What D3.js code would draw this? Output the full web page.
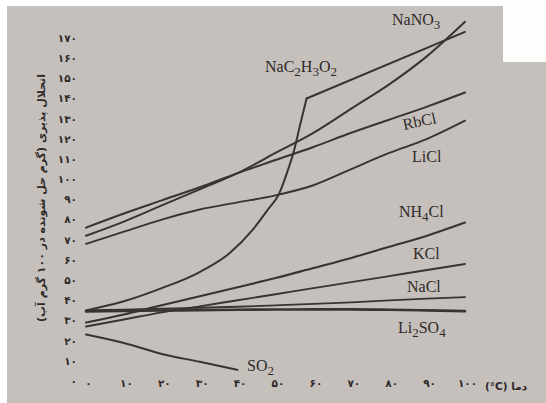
<!DOCTYPE html>
<html><head><meta charset="utf-8">
<script src="https://cdn.jsdelivr.net/npm/d3@7/dist/d3.min.js"></script>
<style>html,body{margin:0;padding:0;background:#fff;}svg{display:block;}</style>
</head><body>
<script>
// ---- data (temperature °C -> solubility g / 100 g water) ----
const temps   = [0,10,20,30,40,50,60,70,80,90,100];
const nano3   = [73,80,88,96,104,114,124,136,148,162,179];
const rbcl    = [77,84,90.5,97,104,110.5,117,124,130.5,137,144];
const licl    = [69,75,81,86,89.5,93,98,106,114,121,130];
const nh4cl   = [30,34,38.5,43,47.5,52,57,62,67.5,73,79.5];
const kcl     = [28,31.5,35,38,41,44,47,50,53,56,59];
const nacl    = [36,36.4,36.8,37.3,37.8,38.5,39.2,40,41,41.8,42.6];
const li2so4  = [35.5,35.7,35.9,36.1,36.3,36.4,36.5,36.5,36.3,36,35.6];
const so2Temps = [0,10,20,30,40];
const so2      = [24,19.8,14.4,10.5,6.5];
const acetateTemps = [0,10,20,30,38,44,48,51,53,55,56.5,58.2];
const acetate      = [36,40.5,47,55,64.5,76,86,94,104,116,128,141];
const anhydTemps   = [58.2,100];
const anhyd        = [141,174];
const yTicks = [0,10,20,30,40,50,60,70,80,90,100,110,120,130,140,150,160,170];
const xTicks = [0,10,20,30,40,50,60,70,80,90,100];
const yTitle = "انحلال پذیری (گرم حل شونده در ۱۰۰ گرم آب)";
const xTitle = "دما (\u200E°C\u200E)";

const W = 546, H = 403;
const fa = n => String(n).replace(/\d/g, d => "۰۱۲۳۴۵۶۷۸۹"[+d]);

const svg = d3.select("body").append("svg").attr("width", W).attr("height", H);
// scanned page
svg.append("rect").attr("x",7).attr("y",6).attr("width",W-7).attr("height",H-6).attr("fill","#c6c0bc");
svg.append("rect").attr("x",503).attr("y",0).attr("width",W-503).attr("height",62).attr("fill","#fdfdfc");

const x = d3.scaleLinear().domain([0,100]).range([86,465]);
const y = d3.scaleLinear().domain([0,170]).range([383,40]);

const ink = "#3a3431";
const line = d3.line().x(d=>x(d[0])).y(d=>y(d[1])).curve(d3.curveMonotoneX);
const lin = d3.line().x(d=>x(d[0])).y(d=>y(d[1]));
const zipT = (ts, vs) => ts.map((t,i)=>[t,vs[i]]);

const series = [
  {v: zipT(temps,nano3), w:2},
  {v: zipT(temps,rbcl), w:2},
  {v: zipT(temps,licl), w:1.9},
  {v: zipT(temps,nh4cl), w:2.1},
  {v: zipT(temps,kcl), w:1.9},
  {v: zipT(temps,nacl), w:1.8},
  {v: zipT(temps,li2so4), w:2.6},
  {v: zipT(so2Temps,so2), w:2},
  {v: zipT(acetateTemps,acetate), w:2}
];
series.forEach(s => svg.append("path").attr("d", line(s.v)).attr("fill","none")
  .attr("stroke", ink).attr("stroke-width", s.w).attr("stroke-linecap","round"));
svg.append("path").attr("d", lin(zipT(anhydTemps,anhyd))).attr("fill","none")
  .attr("stroke", ink).attr("stroke-width", 2).attr("stroke-linecap","round");

// y tick labels (Persian digits)
const yAxis = d3.axisLeft(y).tickValues(yTicks).tickSize(0).tickPadding(0).tickFormat(fa);
const gy = svg.append("g").attr("transform","translate(77,-2)").call(yAxis);
gy.select(".domain").remove();
gy.selectAll("text").attr("font-family","DejaVu Sans").attr("font-weight","bold")
  .attr("font-size",10.5).attr("fill","#2e2a28");

// x tick labels
const xAxis = d3.axisBottom(x).tickValues(xTicks).tickSize(0).tickPadding(0).tickFormat(fa);
const gx = svg.append("g").attr("transform","translate(2,380)").call(xAxis);
gx.select(".domain").remove();
gx.selectAll("text").attr("font-family","DejaVu Sans").attr("font-weight","bold")
  .attr("font-size",10.5).attr("fill","#2e2a28");

svg.append("text").attr("x",506).attr("y",390).attr("text-anchor","middle")
  .attr("direction","rtl").attr("font-family","DejaVu Sans").attr("font-weight","bold")
  .attr("font-size",10.5).attr("fill","#2e2a28").text(xTitle);

svg.append("text").attr("transform","translate(45,198) rotate(-90)").attr("text-anchor","middle")
  .attr("direction","rtl").attr("font-family","DejaVu Sans").attr("font-weight","bold")
  .attr("font-size",11).attr("fill","#2e2a28").text(yTitle);

// series labels
const labels = [
  {parts:[["NaNO",0],["3",1]], x:392, y:25, r:0},
  {parts:[["NaC",0],["2",1],["H",0],["3",1],["O",0],["2",1]], x:265, y:72, r:0},
  {parts:[["RbCl",0]], x:404, y:130, r:-12},
  {parts:[["LiCl",0]], x:412, y:162, r:0},
  {parts:[["NH",0],["4",1],["Cl",0]], x:399, y:217, r:0},
  {parts:[["KCl",0]], x:413, y:259, r:0},
  {parts:[["NaCl",0]], x:407, y:292, r:0},
  {parts:[["Li",0],["2",1],["SO",0],["4",1]], x:398, y:333, r:0},
  {parts:[["SO",0],["2",1]], x:247, y:371, r:0}
];
labels.forEach(l => {
  const t = svg.append("text").attr("transform",`translate(${l.x},${l.y}) rotate(${l.r})`)
    .attr("font-family","Liberation Serif").attr("font-size",16).attr("fill","#2e2a28");
  let prevSub = false;
  l.parts.forEach(p => {
    const sub = !!p[1];
    const ts = t.append("tspan").text(p[0])
      .attr("dy", sub && !prevSub ? 4 : (!sub && prevSub ? -4 : 0));
    if (sub) ts.attr("font-size",13);
    prevSub = sub;
  });
});
</script>
</body></html>
